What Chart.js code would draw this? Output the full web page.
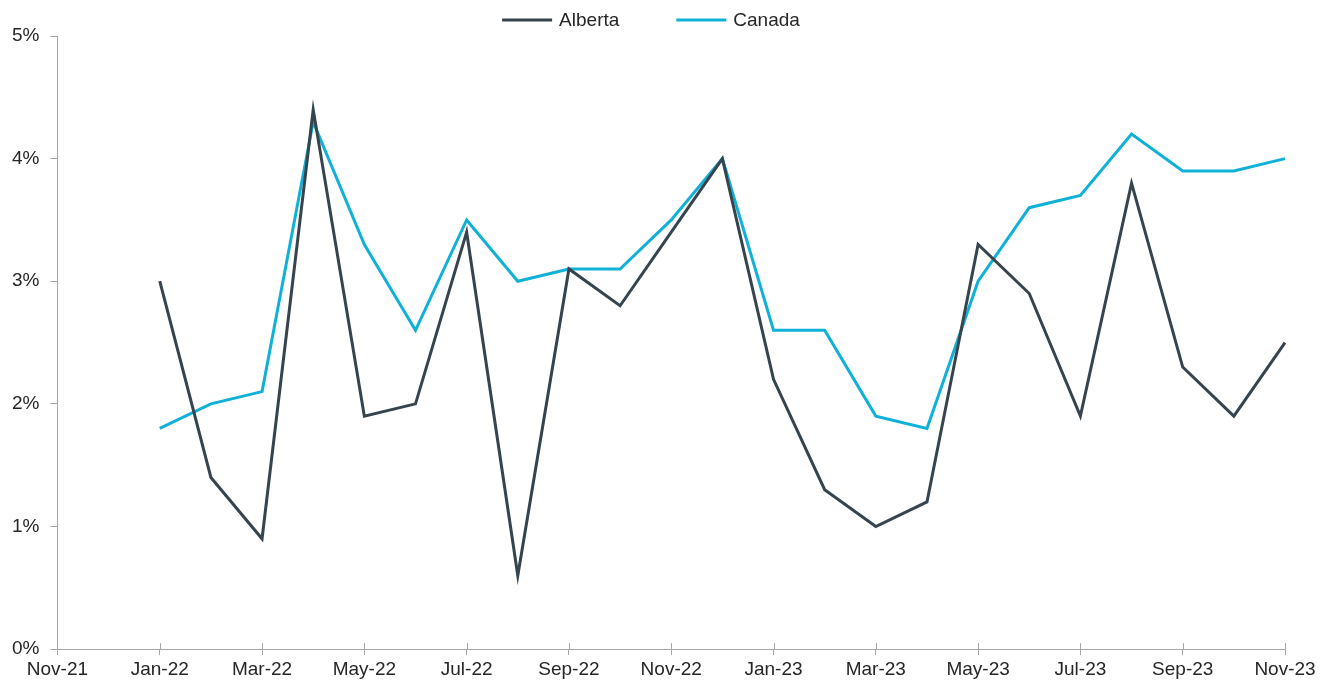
<!DOCTYPE html>
<html>
<head>
<meta charset="utf-8">
<script src="https://cdn.jsdelivr.net/npm/chart.js@4/dist/chart.umd.min.js"></script>
<style>
  html, body { margin: 0; padding: 0; background: #fff; }
  #wrap { width: 1330px; height: 684px; position: relative; }
</style>
</head>
<body>
<div id="wrap"><canvas id="line-chart"></canvas></div>
<script>
// monthly, Nov-21 .. Nov-23
const months = ["Nov-21","Dec-21","Jan-22","Feb-22","Mar-22","Apr-22","May-22","Jun-22","Jul-22","Aug-22","Sep-22","Oct-22",
	"Nov-22","Dec-22","Jan-23","Feb-23","Mar-23","Apr-23","May-23","Jun-23","Jul-23","Aug-23","Sep-23","Oct-23","Nov-23"];
const alberta = [null, null, 3.0, 1.4, 0.9, 4.4, 1.9, 2.0, 3.4, 0.6, 3.1, 2.8, 3.4, 4.0, 2.2, 1.3, 1.0, 1.2, 3.3, 2.9, 1.9, 3.8, 2.3, 1.9, 2.5];
const canada  = [null, null, 1.8, 2.0, 2.1, 4.3, 3.3, 2.6, 3.5, 3.0, 3.1, 3.1, 3.5, 4.0, 2.6, 2.6, 1.9, 1.8, 3.0, 3.6, 3.7, 4.2, 3.9, 3.9, 4.0];
const yTicks = [0, 1, 2, 3, 4, 5];

const axisColor = "#a6a6a6";
const fontFamily = "'Liberation Sans', Arial, sans-serif";
const fontSize = 19;

// x tick marks cross the axis line: draw the inner half
const innerTicks = {
	id: "innerTicks",
	afterDraw(chart) {
		const ctx = chart.ctx;
		const x = chart.scales.x;
		const yb = chart.scales.y.getPixelForValue(0);
		ctx.save();
		ctx.strokeStyle = axisColor;
		ctx.lineWidth = 1;
		months.forEach((m, i) => {
			if (i % 2 || i === 0) return;
			const px = Math.round(x.getPixelForValue(i)) + 0.5;
			ctx.beginPath();
			ctx.moveTo(px, yb - 6);
			ctx.lineTo(px, yb);
			ctx.stroke();
		});
		ctx.restore();
	}
};

// legend drawn by hand so the spacing matches
const topLegend = {
	id: "topLegend",
	afterDraw(chart) {
		const ctx = chart.ctx;
		const sets = chart.data.datasets;
		const lineLen = 50, gap = 7, spacing = 57;
		ctx.save();
		ctx.font = fontSize + "px " + fontFamily;
		ctx.textBaseline = "middle";
		let total = 0;
		sets.forEach((d, i) => {
			total += lineLen + gap + ctx.measureText(d.label).width + (i ? spacing : 0);
		});
		let x = chart.width / 2 - 14 - total / 2;
		const y = 20;
		sets.forEach((d) => {
			ctx.strokeStyle = d.borderColor;
			ctx.lineWidth = 3;
			ctx.beginPath();
			ctx.moveTo(x, y);
			ctx.lineTo(x + lineLen, y);
			ctx.stroke();
			ctx.fillStyle = "#262626";
			ctx.fillText(d.label, x + lineLen + gap, y + 1);
			x += lineLen + gap + ctx.measureText(d.label).width + spacing;
		});
		ctx.restore();
	}
};

Chart.defaults.font.family = fontFamily;
Chart.defaults.font.size = fontSize;
Chart.defaults.color = "#262626";

new Chart(document.getElementById("line-chart"), {
	type: "line",
	data: {
		labels: months,
		datasets: [
			{ label: "Alberta", data: alberta, borderColor: "#36444e", backgroundColor: "#36444e", borderWidth: 3, pointRadius: 0, tension: 0 },
			{ label: "Canada", data: canada, borderColor: "#0fb1d6", backgroundColor: "#0fb1d6", borderWidth: 3, pointRadius: 0, tension: 0 }
		]
	},
	options: {
		responsive: true,
		maintainAspectRatio: false,
		animation: false,
		layout: { padding: { left: 1, right: 45, top: 36, bottom: 0 } },
		plugins: {
			legend: { display: false },
			tooltip: { enabled: false }
		},
		scales: {
			x: {
				offset: false,
				border: { color: axisColor, width: 1 },
				grid: {
					drawOnChartArea: false,
					tickLength: 6,
					color: (c) => (c.index % 2 === 0 ? axisColor : "transparent")
				},
				ticks: {
					autoSkip: false,
					maxRotation: 0,
					padding: 4,
					font: { lineHeight: 1.1 },
					callback: (v, i) => (i % 2 === 0 ? months[i] : "")
				}
			},
			y: {
				min: 0,
				max: 5,
				border: { color: axisColor, width: 1 },
				grid: { drawOnChartArea: false, tickLength: 7, color: axisColor },
				afterBuildTicks: (s) => { s.ticks = yTicks.map((v) => ({ value: v })); },
				ticks: { padding: 11, callback: (v) => v + "%" }
			}
		}
	},
	plugins: [innerTicks, topLegend]
});
</script>
</body>
</html>
